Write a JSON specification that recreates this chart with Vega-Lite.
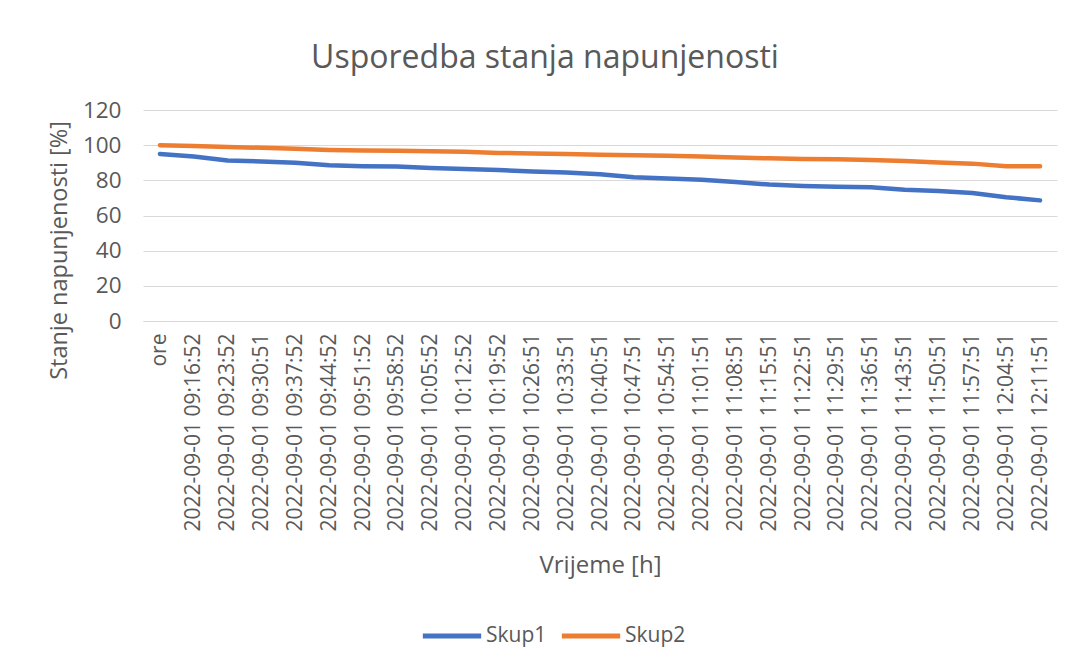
{
  "$schema": "https://vega.github.io/schema/vega-lite/v6.json",
  "width": 914,
  "height": 211,
  "autosize": {"type": "none"},
  "padding": {"left": 143, "top": 110, "right": 13, "bottom": 347},
  "background": "white",
  "config": {"view": {"stroke": null}, "font": "Open Sans"},
  "title": {
    "text": "Usporedba stanja napunjenosti",
    "fontSize": 32,
    "fontWeight": "normal",
    "color": "#595959",
    "anchor": "middle",
    "frame": "group",
    "offset": 24,
    "dx": -55
  },
  "data": {
    "values": [
      {"t": "ore", "s": "Skup1", "v": 95},
      {"t": "2022-09-01 09:16:52", "s": "Skup1", "v": 93.5},
      {"t": "2022-09-01 09:23:52", "s": "Skup1", "v": 91.3},
      {"t": "2022-09-01 09:30:51", "s": "Skup1", "v": 90.7},
      {"t": "2022-09-01 09:37:52", "s": "Skup1", "v": 90},
      {"t": "2022-09-01 09:44:52", "s": "Skup1", "v": 88.6},
      {"t": "2022-09-01 09:51:52", "s": "Skup1", "v": 88},
      {"t": "2022-09-01 09:58:52", "s": "Skup1", "v": 87.8},
      {"t": "2022-09-01 10:05:52", "s": "Skup1", "v": 87},
      {"t": "2022-09-01 10:12:52", "s": "Skup1", "v": 86.4},
      {"t": "2022-09-01 10:19:52", "s": "Skup1", "v": 85.9},
      {"t": "2022-09-01 10:26:51", "s": "Skup1", "v": 85},
      {"t": "2022-09-01 10:33:51", "s": "Skup1", "v": 84.5},
      {"t": "2022-09-01 10:40:51", "s": "Skup1", "v": 83.5},
      {"t": "2022-09-01 10:47:51", "s": "Skup1", "v": 81.8},
      {"t": "2022-09-01 10:54:51", "s": "Skup1", "v": 81},
      {"t": "2022-09-01 11:01:51", "s": "Skup1", "v": 80.3},
      {"t": "2022-09-01 11:08:51", "s": "Skup1", "v": 79},
      {"t": "2022-09-01 11:15:51", "s": "Skup1", "v": 77.6},
      {"t": "2022-09-01 11:22:51", "s": "Skup1", "v": 76.8},
      {"t": "2022-09-01 11:29:51", "s": "Skup1", "v": 76.3},
      {"t": "2022-09-01 11:36:51", "s": "Skup1", "v": 76},
      {"t": "2022-09-01 11:43:51", "s": "Skup1", "v": 74.6},
      {"t": "2022-09-01 11:50:51", "s": "Skup1", "v": 74},
      {"t": "2022-09-01 11:57:51", "s": "Skup1", "v": 72.8},
      {"t": "2022-09-01 12:04:51", "s": "Skup1", "v": 70.4},
      {"t": "2022-09-01 12:11:51", "s": "Skup1", "v": 68.6},
      {"t": "ore", "s": "Skup2", "v": 100},
      {"t": "2022-09-01 09:16:52", "s": "Skup2", "v": 99.5},
      {"t": "2022-09-01 09:23:52", "s": "Skup2", "v": 99},
      {"t": "2022-09-01 09:30:51", "s": "Skup2", "v": 98.5},
      {"t": "2022-09-01 09:37:52", "s": "Skup2", "v": 98},
      {"t": "2022-09-01 09:44:52", "s": "Skup2", "v": 97.3},
      {"t": "2022-09-01 09:51:52", "s": "Skup2", "v": 97},
      {"t": "2022-09-01 09:58:52", "s": "Skup2", "v": 96.8},
      {"t": "2022-09-01 10:05:52", "s": "Skup2", "v": 96.5},
      {"t": "2022-09-01 10:12:52", "s": "Skup2", "v": 96.3},
      {"t": "2022-09-01 10:19:52", "s": "Skup2", "v": 95.6},
      {"t": "2022-09-01 10:26:51", "s": "Skup2", "v": 95.3},
      {"t": "2022-09-01 10:33:51", "s": "Skup2", "v": 95},
      {"t": "2022-09-01 10:40:51", "s": "Skup2", "v": 94.5},
      {"t": "2022-09-01 10:47:51", "s": "Skup2", "v": 94.3},
      {"t": "2022-09-01 10:54:51", "s": "Skup2", "v": 94},
      {"t": "2022-09-01 11:01:51", "s": "Skup2", "v": 93.5},
      {"t": "2022-09-01 11:08:51", "s": "Skup2", "v": 93},
      {"t": "2022-09-01 11:15:51", "s": "Skup2", "v": 92.5},
      {"t": "2022-09-01 11:22:51", "s": "Skup2", "v": 92.2},
      {"t": "2022-09-01 11:29:51", "s": "Skup2", "v": 92},
      {"t": "2022-09-01 11:36:51", "s": "Skup2", "v": 91.5},
      {"t": "2022-09-01 11:43:51", "s": "Skup2", "v": 91},
      {"t": "2022-09-01 11:50:51", "s": "Skup2", "v": 90.2},
      {"t": "2022-09-01 11:57:51", "s": "Skup2", "v": 89.5},
      {"t": "2022-09-01 12:04:51", "s": "Skup2", "v": 88},
      {"t": "2022-09-01 12:11:51", "s": "Skup2", "v": 88}
    ]
  },
  "mark": {"type": "line", "strokeWidth": 4.5, "strokeCap": "round", "strokeJoin": "round"},
  "encoding": {
    "x": {
      "field": "t",
      "type": "nominal",
      "sort": null,
      "scale": {"type": "point", "padding": 0.5},
      "axis": {
        "title": "Vrijeme [h]",
        "titleFontSize": 24,
        "titleFontWeight": "normal",
        "titleColor": "#595959",
        "titleX": 457,
        "titleY": 244,
        "titleAlign": "center",
        "titleBaseline": "middle",
        "labelAngle": 270,
        "labelAlign": "right",
        "labelBaseline": "middle",
        "labelFontSize": 21,
        "labelLimit": 400,
        "labelColor": "#595959",
        "labelPadding": 12,
        "labelOverlap": false,
        "ticks": false,
        "grid": false,
        "domainColor": "#d9d9d9",
        "domainWidth": 1.2
      }
    },
    "y": {
      "field": "v",
      "type": "quantitative",
      "scale": {"domain": [0, 120]},
      "axis": {
        "title": "Stanje napunjenosti [%]",
        "titleFontSize": 23.5,
        "titleFontWeight": "normal",
        "titleColor": "#595959",
        "titleX": -84,
        "titleY": 140,
        "titleAngle": 270,
        "titleAlign": "center",
        "titleBaseline": "middle",
        "values": [0, 20, 40, 60, 80, 100, 120],
        "labelFontSize": 22.5,
        "labelColor": "#595959",
        "labelPadding": 22,
        "ticks": false,
        "domain": false,
        "grid": true,
        "gridColor": "#d9d9d9",
        "gridWidth": 1.2
      }
    },
    "color": {
      "field": "s",
      "type": "nominal",
      "scale": {"domain": ["Skup1", "Skup2"], "range": ["#4472C4", "#ED7D31"]},
      "legend": {
        "title": null,
        "orient": "none",
        "direction": "horizontal",
        "legendX": 277,
        "legendY": 494,
        "symbolType": "stroke",
        "symbolStrokeWidth": 5,
        "symbolSize": 3400,
        "labelFontSize": 21,
        "labelColor": "#595959",
        "labelOffset": 2,
        "columnPadding": 4
      }
    }
  }
}
